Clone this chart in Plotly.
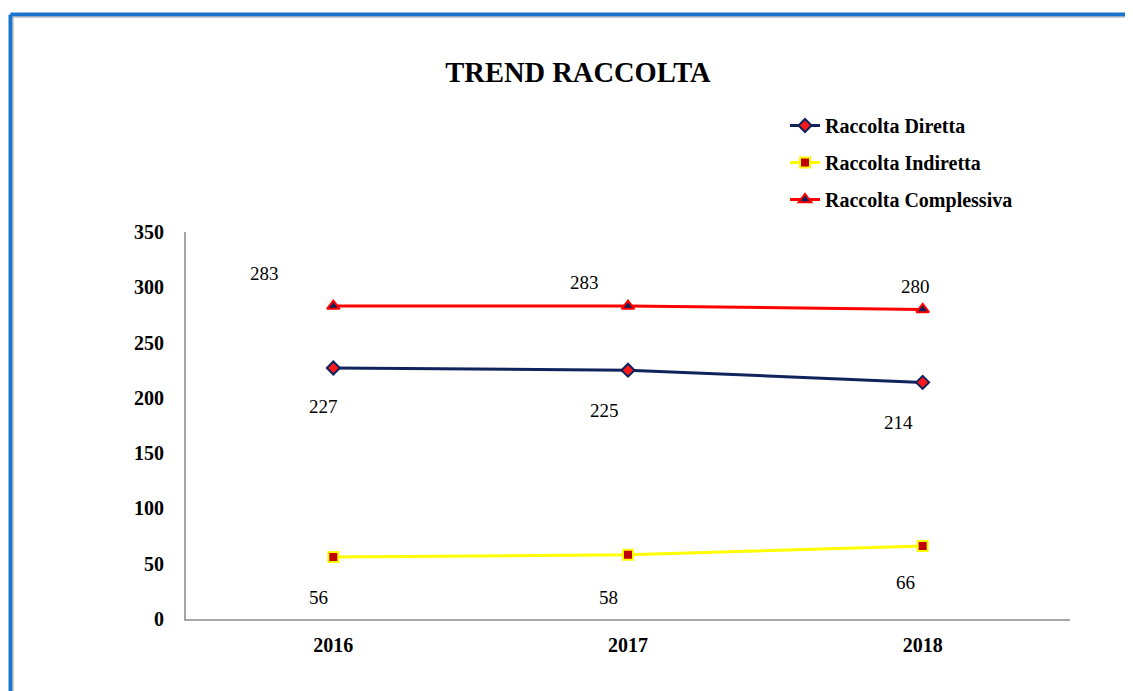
import plotly.graph_objects as go

years = ["2016", "2017", "2018"]
diretta = [227, 225, 214]
indiretta = [56, 58, 66]
complessiva = [283, 283, 280]
y_ticks = [0, 50, 100, 150, 200, 250, 300, 350]

series_names = ["Raccolta Diretta", "Raccolta Indiretta", "Raccolta Complessiva"]

# label pixel offsets (style only)
label_shift = {
    "Raccolta Diretta": [(-10, -38), (-24, -40), (-24, -40)],
    "Raccolta Indiretta": [(-15, -40), (-20, -43), (-17, -36)],
    "Raccolta Complessiva": [(-69, 33), (-44, 24), (-7, 23)],
}

FONT = "Liberation Serif, Times New Roman, serif"

fig = go.Figure()
styles = [
    (diretta, "#10235c", dict(symbol="diamond", color="#ff1a1a", size=10, line=dict(color="#10235c", width=2))),
    (indiretta, "#ffff00", dict(symbol="square", color="#c00000", size=10, line=dict(color="#ffff00", width=2))),
    (complessiva, "#ff0000", dict(symbol="triangle-up", color="#10235c", size=11, line=dict(color="#ff0000", width=2))),
]
for name, (vals, lc, mk) in zip(series_names, styles):
    fig.add_trace(go.Scatter(
        x=years, y=vals, name=f"<b>{name}</b>", mode="lines+markers",
        line=dict(color=lc, width=3), marker=mk, legendgroup=name,
    ))
    for i, (yv, (dx, dy)) in enumerate(zip(vals, label_shift[name])):
        fig.add_annotation(x=i, y=yv, xref="x", yref="y", text=str(yv), showarrow=False,
                           xshift=dx, yshift=dy,
                           font=dict(family=FONT, size=19, color="#000000"))

# plot area in screen px: x 186..1070, y 232..619 (page has 8px body margin)
PW, PH = 884, 387
L = (10.5 - 186) / PW
T = 1 + (232 - 14.5) / PH
fig.add_shape(type="line", xref="paper", yref="paper", x0=L, x1=L, y0=-1, y1=T,
              line=dict(color="#1874cd", width=4))
fig.add_shape(type="line", xref="paper", yref="paper", x0=L, x1=2, y0=T, y1=T,
              line=dict(color="#1874cd", width=4))
L2 = (13 - 186) / PW
T2 = 1 + (232 - 17) / PH
fig.add_shape(type="line", xref="paper", yref="paper", x0=L2, x1=L2, y0=-1, y1=T2,
              line=dict(color="#a0a0a0", width=1))
fig.add_shape(type="line", xref="paper", yref="paper", x0=L2, x1=2, y0=T2, y1=T2,
              line=dict(color="#a0a0a0", width=1))

fig.update_layout(
    width=1125, height=683,
    margin=dict(l=178, r=63, t=224, b=72),
    paper_bgcolor="white", plot_bgcolor="white",
    title=dict(text="<b>TREND RACCOLTA</b>", x=(578 - 8) / 1125, xanchor="center",
               y=1 - (72 - 8) / 683, yanchor="middle",
               font=dict(family=FONT, size=28.5, color="#000000")),
    showlegend=True,
    legend=dict(x=(785 - 186) / PW, y=1 + (232 - 106) / PH, xanchor="left", yanchor="top",
                font=dict(family=FONT, size=20, color="#000000"),
                traceorder="grouped", tracegroupgap=8, itemwidth=30,
                bgcolor="rgba(0,0,0,0)"),
    font=dict(family=FONT),
)
fig.update_xaxes(type="category", range=[-0.5, 2.5], showline=True, linecolor="#a6a6a6",
                 linewidth=2, showgrid=False, zeroline=False, ticks="outside",
                 tickcolor="rgba(0,0,0,0)", ticklen=7,
                 tickfont=dict(family=FONT, size=20, color="#000000"),
                 tickvals=years, ticktext=[f"<b>{y}</b>" for y in years])
fig.update_yaxes(range=[0, 350], tickvals=y_ticks, ticktext=[f"<b>{v}</b>" for v in y_ticks],
                 showline=True, linecolor="#a6a6a6", linewidth=2, showgrid=False, zeroline=False,
                 ticks="outside", tickcolor="rgba(0,0,0,0)", ticklen=16,
                 tickfont=dict(family=FONT, size=20, color="#000000"))

fig.write_html("out.html")
